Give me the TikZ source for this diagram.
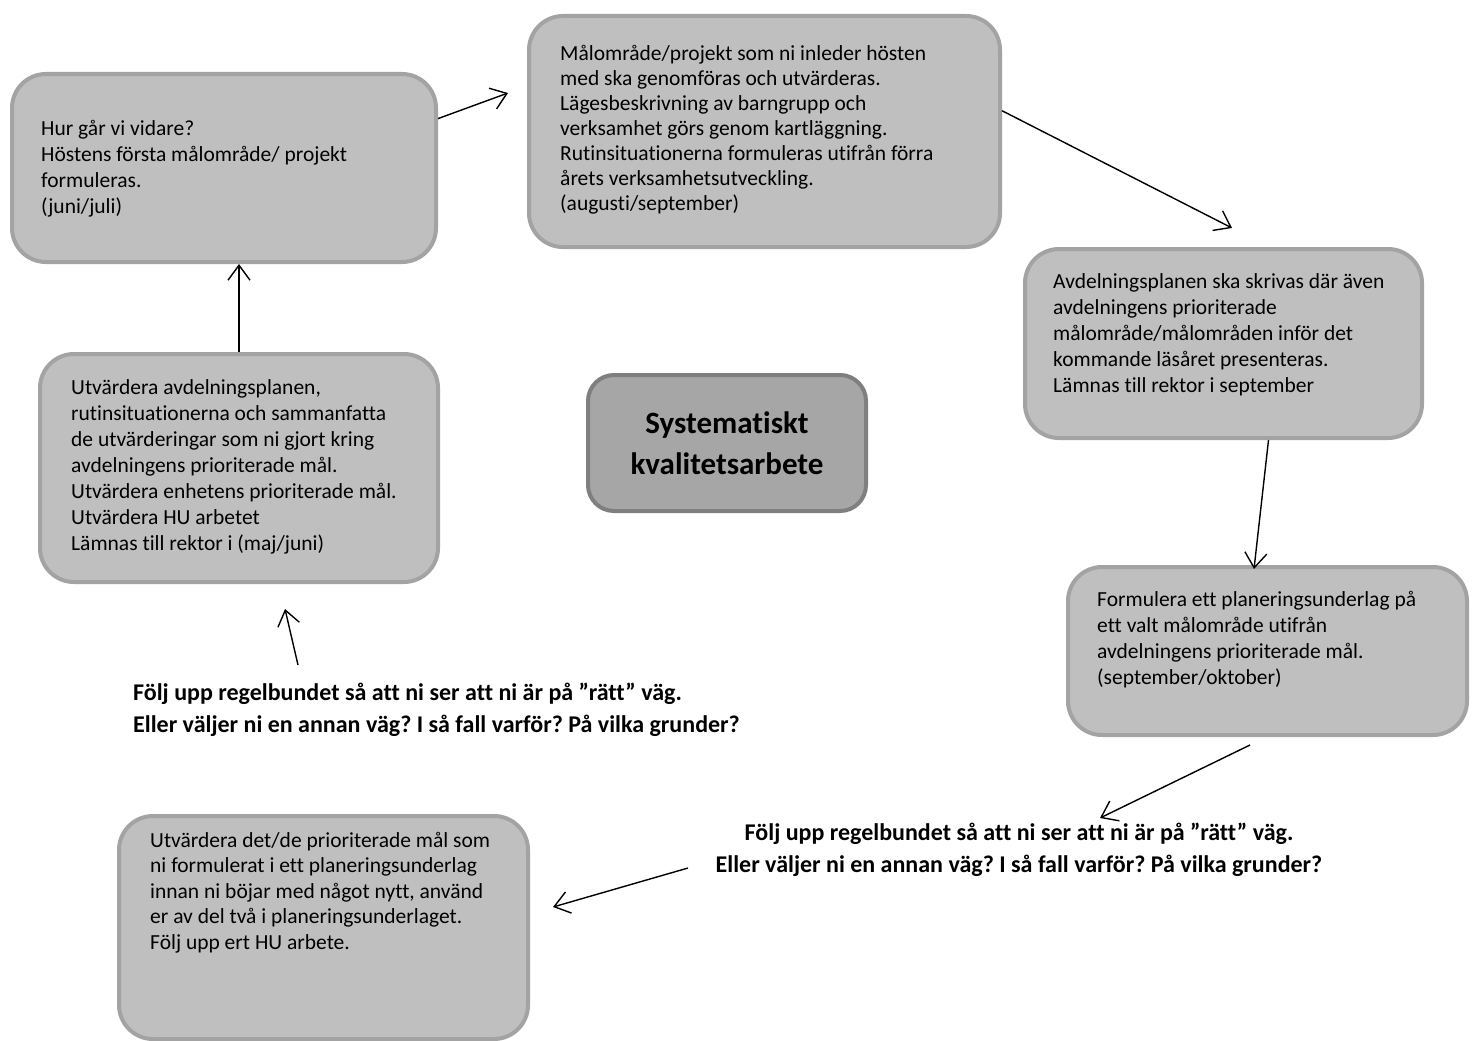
\documentclass[tikz,border=0pt]{standalone}
\usepackage{fontspec}
\setmainfont{Carlito}[Ligatures={NoCommon}]
\usetikzlibrary{arrows.meta}
\definecolor{boxfill}{HTML}{BFBFBF}
\definecolor{boxline}{HTML}{A3A3A3}
\definecolor{corefill}{HTML}{A6A6A6}
\definecolor{coreline}{HTML}{7F7F7F}
\begin{document}
\frenchspacing
\begin{tikzpicture}[x=1pt,y=-1pt,
  box/.style={draw=boxline, line width=4pt, fill=boxfill, rounded corners=34pt, inner sep=0pt, anchor=north west},
  core/.style={draw=coreline, line width=4pt, fill=corefill, rounded corners=26pt, inner sep=0pt, align=center, font=\bfseries\fontsize{31}{41}\selectfont},
  txt/.style={anchor=north west, inner sep=0pt, align=left, font=\fontsize{21.5}{26}\selectfont},
  note/.style={inner sep=0pt, font=\bfseries\fontsize{24}{32}\selectfont},
  arr/.style={line width=1.4pt, -{Straight Barb[length=15pt,width=22pt,line width=1.4pt]}}]
\useasboundingbox (0,0) rectangle (1472,1041);
\clip (0,0) rectangle (1472,1041);
\fill[white] (0,0) rectangle (1472,1041);

% boxes
\node[box, minimum width=424pt, minimum height=188pt] (A) at (10,72) {};
\node[box, minimum width=471pt, minimum height=231pt] (B) at (527,14) {};
\node[box, minimum width=397pt, minimum height=189pt] (C) at (1023,247) {};
\node[box, minimum width=399pt, minimum height=168pt] (D) at (1066,565) {};
\node[box, minimum width=398pt, minimum height=228pt] (E) at (38,352) {};
\node[box, minimum width=409pt, minimum height=223pt] (F) at (117,814) {};
\node[core, minimum width=278pt, minimum height=136pt] (G) at (727,443) {Systematiskt\\kvalitetsarbete};

% box texts
\node[txt] (tA) at (41,116.8) {\strut Hur går vi vidare?\\Höstens första målområde/ projekt\\formuleras.\\(juni/juli)};
\node[txt, font=\fontsize{21.5}{25}\selectfont] (tB) at (560,42.5) {\strut Målområde/projekt som ni inleder hösten\\med ska genomföras och utvärderas.\\Lägesbeskrivning av barngrupp och\\verksamhet görs genom kartläggning.\\Rutinsituationerna formuleras utifrån förra\\årets verksamhetsutveckling.\\(augusti/september)};
\node[txt] (tC) at (1053,269.8) {\strut Avdelningsplanen ska skrivas där även\\avdelningens prioriterade\\målområde/målområden inför det\\kommande läsåret presenteras.\\Lämnas till rektor i september};
\node[txt] (tD) at (1097,587.8) {\strut Formulera ett planeringsunderlag på\\ett valt målområde utifrån\\avdelningens prioriterade mål.\\(september/oktober)};
\node[txt] (tE) at (71,375.8) {\strut Utvärdera avdelningsplanen,\\rutinsituationerna och sammanfatta\\de utvärderingar som ni gjort kring\\avdelningens prioriterade mål.\\Utvärdera enhetens prioriterade mål.\\Utvärdera HU arbetet\\Lämnas till rektor i (maj/juni)};
\node[txt, font=\fontsize{21.5}{25.5}\selectfont] (tF) at (150,829.3) {\strut Utvärdera det/de prioriterade mål som\\ni formulerat i ett planeringsunderlag\\innan ni böjar med något nytt, använd\\er av del två i planeringsunderlaget.\\Följ upp ert HU arbete.};

% notes
\node[note, anchor=north west, align=left] (n1) at (133,677.6) {\strut Följ upp regelbundet så att ni ser att ni är på ”rätt” väg.\\Eller väljer ni en annan väg? I så fall varför? På vilka grunder?};
\node[note, anchor=north, align=center] (n2) at (1019,817.6) {\strut Följ upp regelbundet så att ni ser att ni är på ”rätt” väg.\\Eller väljer ni en annan väg? I så fall varför? På vilka grunder?};

% arrow ends
\coordinate (pB) at (508,93);
\coordinate (pC) at (1232,228);
\coordinate (pD) at (1254,569);
\coordinate (qD) at (1250,745);
\coordinate (pN2) at (1100,818);
\coordinate (qN2) at (688,868);
\coordinate (pF) at (553,907);
\coordinate (qN1) at (298,665);
\coordinate (pE) at (285,609);

\draw[arr] (A.13) -- (pB);
\draw[arr] (B.5) -- (pC);
\draw[arr] (C.-65.5) -- (pD);
\draw[arr] (qD) -- (pN2);
\draw[arr] (qN2) -- (pF);
\draw[arr] (qN1) -- (pE);
\draw[arr] (E.north) -- (E.north |- A.south);
\end{tikzpicture}
\end{document}
